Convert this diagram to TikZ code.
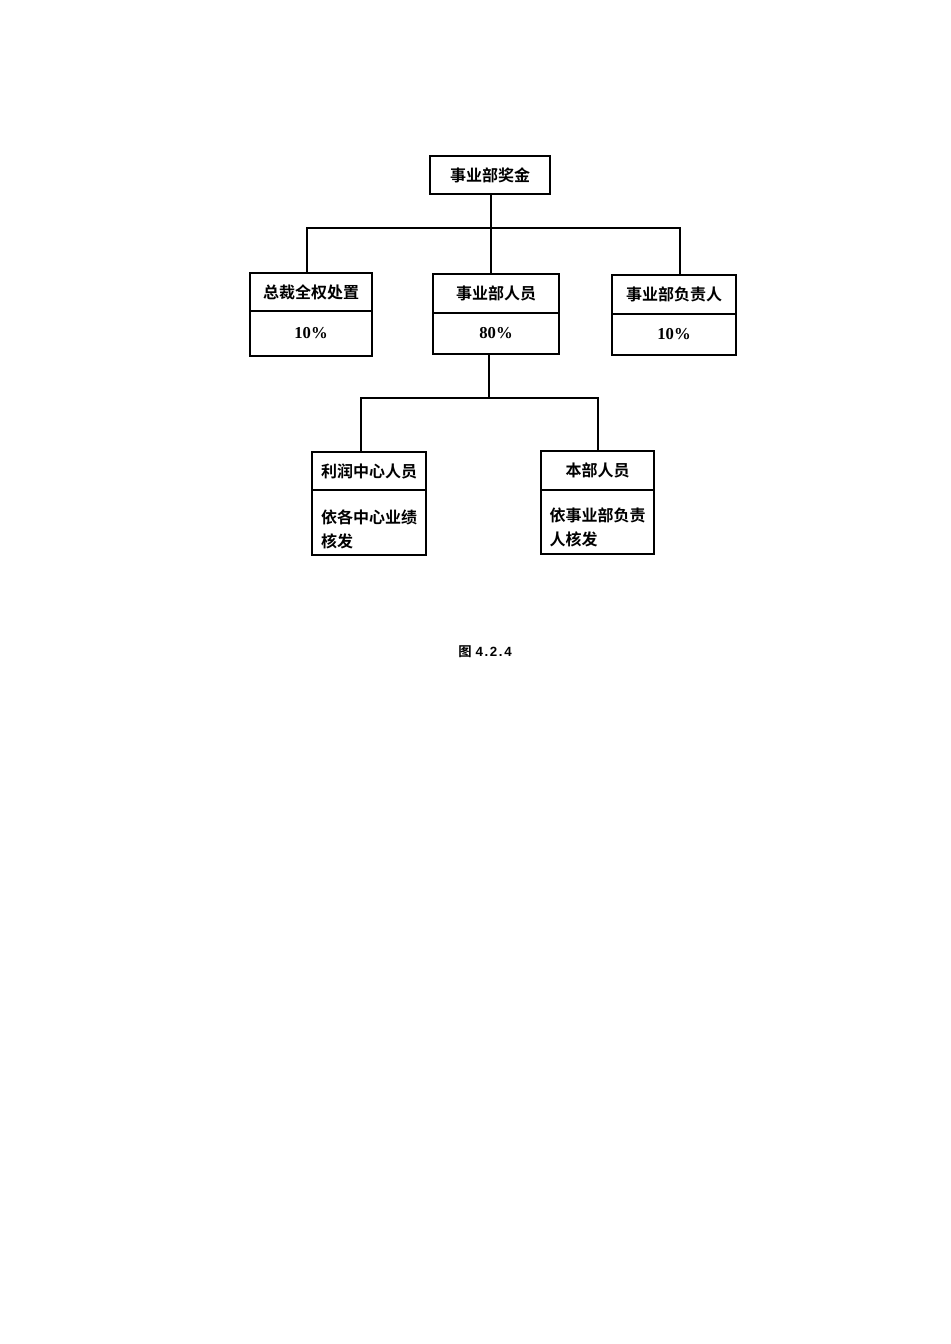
\documentclass[tikz,border=0pt]{standalone}
\usepackage{fontspec}
\usepackage{tikz}
\usetikzlibrary{positioning}
\newfontfamily\cjk{Noto Sans CJK SC}[BoldFont={* Bold}]
\newfontfamily\numfont{Liberation Serif}
\newfontfamily\capfont{Liberation Sans}
\tikzset{
  link/.style={line width=1.5pt},
  headbox/.style={draw,line width=1.5pt,outer sep=0pt,inner sep=0pt,align=center,
    minimum height=28.5pt,font=\cjk\bfseries\fontsize{12}{18}\selectfont},
  bodybox/.style={headbox,minimum height=31pt,font=\numfont\bfseries\fontsize{12.5}{14}\selectfont},
  notebox/.style={headbox,align=left,text width=72pt,minimum height=48.5pt},
}
\begin{document}
\begin{tikzpicture}[x=0.75pt,y=-0.75pt]
  \useasboundingbox[fill=white] (0,0) rectangle (950,1344);
  % top level
  \node[headbox,minimum width=90pt] (fund) at (490,175) {事业部奖金};
  \node[headbox,minimum width=91.5pt] (ceo) at (311,292) {总裁全权处置};
  \node[bodybox,minimum width=91.5pt,minimum height=33.75pt,below=0pt of ceo] (ceopct) {10\%};
  \node[headbox,minimum width=94.5pt,minimum height=29.25pt] (staff) at (496,293.5) {事业部人员};
  \node[bodybox,minimum width=94.5pt,minimum height=30.75pt,below=0pt of staff] (staffpct) {80\%};
  \node[headbox,minimum width=93pt,minimum height=29.25pt] (lead) at (674,294.5) {事业部负责人};
  \node[bodybox,minimum width=93pt,minimum height=30.75pt,below=0pt of lead] (leadpct) {10\%};
  % second level
  \node[headbox,minimum width=85.5pt] (profit) at (369,471) {利润中心人员};
  \node[notebox,minimum width=85.5pt,below=0pt of profit] (profitnote) {\rule{0pt}{20.5pt}依各中心业绩\\核发};
  \node[headbox,minimum width=84.75pt,minimum height=29.25pt] (hq) at (597.5,470.5) {本部人员};
  \node[notebox,minimum width=84.75pt,minimum height=48pt,below=0pt of hq] (hqnote) {\rule{0pt}{19pt}依事业部负责\\人核发};
  \coordinate (hub) at (491,228);
  \coordinate (split) at (489,398);
  \draw[link] (hub |- fund.south) -- (hub);
  \draw[link] ([xshift=-3pt]ceo.north) |- (hub) -| ([xshift=4.5pt]lead.north);
  \draw[link] (hub) -- (hub |- staff.north);
  \draw[link] (split |- staffpct.south) -- (split);
  \draw[link] ([xshift=-6pt]profit.north) |- (split) -| (hq.north);
  \node[font=\fontsize{10}{12}\selectfont\bfseries] (cap) at (485,652)
    {{\cjk 图}\hspace{3pt}{\capfont\addfontfeatures{LetterSpace=12}4.2.4}};
\end{tikzpicture}
\end{document}
